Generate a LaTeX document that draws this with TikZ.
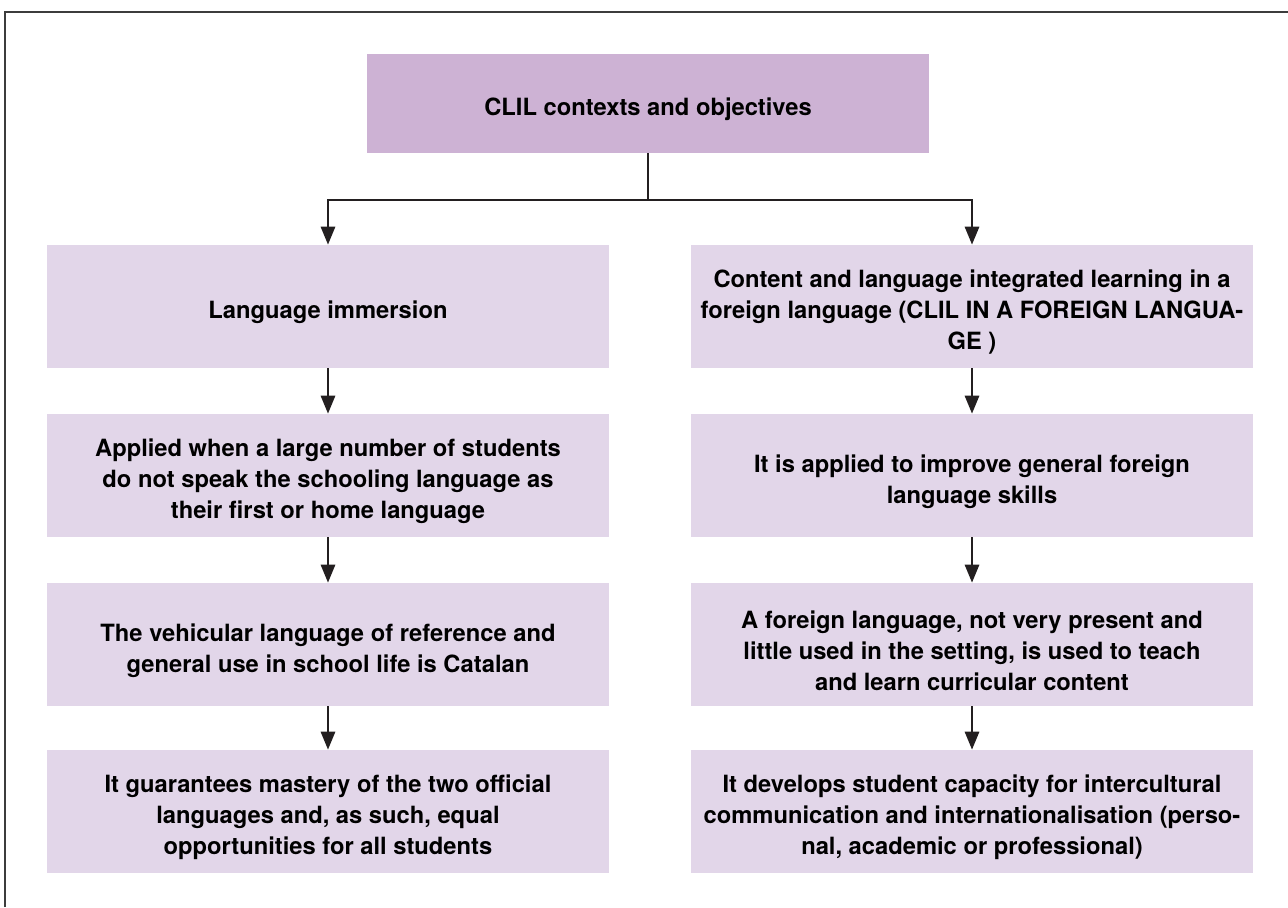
\documentclass[tikz,border=0pt]{standalone}
\usepackage{fontspec}
\setmainfont{TeX Gyre Heros}
\usetikzlibrary{arrows.meta}
\definecolor{headfill}{RGB}{205,178,212}
\definecolor{boxfill}{RGB}{226,214,233}
\definecolor{framegray}{RGB}{60,60,60}
\definecolor{linkblack}{RGB}{35,31,32}
\begin{document}
\begin{tikzpicture}[x=0.75pt,y=-0.75pt,
  every node/.style={inner sep=0pt},
  headbox/.style={fill=headfill, minimum width=421.5pt, minimum height=74.25pt},
  itembox/.style={fill=boxfill, minimum width=421.5pt, minimum height=92.25pt},
  caption/.style={font=\fontsize{17.8}{23.25}\selectfont\bfseries, align=center, yshift=-4.5pt},
  link/.style={draw=linkblack, line width=2.1pt},
  flow/.style={link, -{Triangle[length=13.5pt,width=10.5pt]}}
]
\useasboundingbox (0,0) rectangle (1288,907);
% page frame, open on the right and at the bottom
\draw[framegray, line width=1.4pt] (5,907) -- (5,12) -- (1288,12);

% heading
\node[headbox] (top) at (648,103.5) {};
\node[caption] (topText) at (top.center) {CLIL contexts and objectives};

% left column
\node[itembox] (L1) at (328,306.5) {};
\node[itembox] (L2) at (328,475.5) {};
\node[itembox] (L3) at (328,644.5) {};
\node[itembox] (L4) at (328,811.5) {};
\node[caption] (L1text) at (L1.center) {Language immersion};
\node[caption] (L2text) at (L2.center) {Applied when a large number of students\\do not speak the schooling language as\\their first or home language};
\node[caption] (L3text) at (L3.center) {The vehicular language of reference and\\general use in school life is Catalan};
\node[caption] (L4text) at (L4.center) {It guarantees mastery of the two official\\languages and, as such, equal\\opportunities for all students};

% right column
\node[itembox] (R1) at (972,306.5) {};
\node[itembox] (R2) at (972,475.5) {};
\node[itembox] (R3) at (972,644.5) {};
\node[itembox] (R4) at (972,811.5) {};
\node[caption] (R1text) at (R1.center) {Content and language integrated learning in a\\foreign language (CLIL IN A FOREIGN LANGUA-\\GE )};
\node[caption] (R2text) at (R2.center) {It is applied to improve general foreign\\language skills};
\node[caption] (R3text) at (R3.center) {A foreign language, not very present and\\little used in the setting, is used to teach\\and learn curricular content};
\node[caption] (R4text) at (R4.center) {It develops student capacity for intercultural\\communication and internationalisation (perso-\\nal, academic or professional)};

% branching connector
\coordinate (split) at (648,200);
\draw[link] (top.south) -- (split);
\draw[flow] (split) -| (L1.north);
\draw[flow] (split) -| (R1.north);

% column flows
\draw[flow] (L1.south) -- (L2.north);
\draw[flow] (L2.south) -- (L3.north);
\draw[flow] (L3.south) -- (L4.north);
\draw[flow] (R1.south) -- (R2.north);
\draw[flow] (R2.south) -- (R3.north);
\draw[flow] (R3.south) -- (R4.north);
\end{tikzpicture}
\end{document}
